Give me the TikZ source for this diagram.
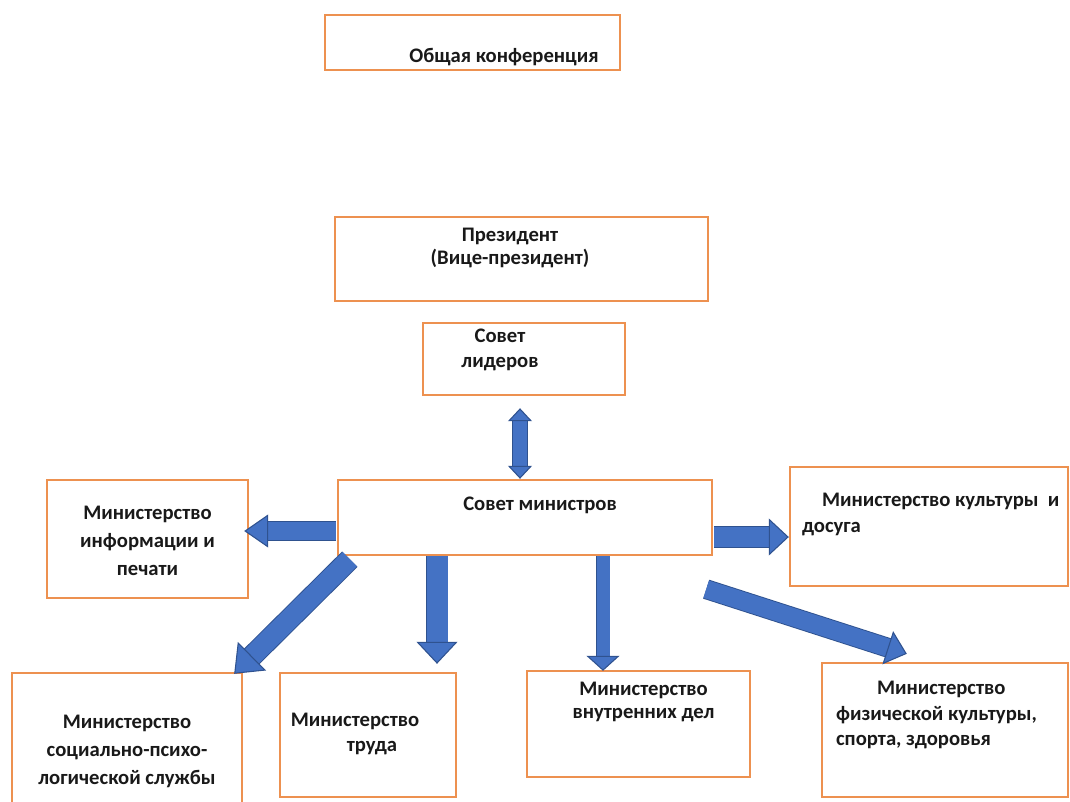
\documentclass[tikz,border=0pt]{standalone}
\usepackage{fontspec}
\setmainfont{Carlito}
\usepackage{xcolor}
\usetikzlibrary{arrows.meta, calc}

\definecolor{boxline}{RGB}{237,145,80}
\definecolor{arrowfill}{RGB}{68,114,196}
\definecolor{arrowedge}{RGB}{47,82,143}

\begin{document}
\begin{tikzpicture}[
    x=0.75pt, y=-0.75pt,
    box/.style={draw=boxline, line width=1.8pt, rectangle, fill=white},
    txt/.style={inner sep=0pt, align=center, text=black!90, font=\bfseries\fontsize{15.5pt}{19pt}\selectfont},
    blockarrow/.style n args={3}{draw=arrowfill, line width=#1,
        -{Triangle[width=#2, length=#3, fill=arrowfill, color=arrowedge, line width=0.8pt]},
        preaction={draw=arrowedge, line width=#1+1.4pt, -, shorten >=#3-1pt}},
    dblarrow/.style n args={3}{draw=arrowfill, line width=#1,
        {Triangle[width=#2, length=#3, fill=arrowfill, color=arrowedge, line width=0.8pt]}-{Triangle[width=#2, length=#3, fill=arrowfill, color=arrowedge, line width=0.8pt]},
        preaction={draw=arrowedge, line width=#1+1.4pt, -, shorten >=#3-1pt, shorten <=#3-1pt}},
]
\useasboundingbox (0,0) rectangle (1070,801);

% Top
\node[box, minimum width=221.25pt, minimum height=41.25pt,
  label={[txt, xshift=23.6pt, yshift=-10.9pt]center:Общая конференция}] (konf) at (472.5,42.5) {};
\node[box, minimum width=279.75pt, minimum height=63pt,
  label={[txt, xshift=-8.6pt, yshift=8.3pt]center:{Президент\\[-2pt](Вице-президент)}}] (prez) at (521.5,259) {};
\node[box, minimum width=151.5pt, minimum height=54pt,
  label={[txt, xshift=-18pt, yshift=6.75pt]center:{Совет\\лидеров}}] (sovlid) at (524,359) {};

% Council of ministers
\node[box, minimum width=280.5pt, minimum height=56.25pt,
  label={[txt, xshift=11.25pt, yshift=9.4pt]center:Совет министров}] (sovmin) at (525,517.5) {};

% Ministries, middle row
\node[box, minimum width=150.75pt, minimum height=88.5pt,
  label={[txt, yshift=-1.5pt]center:{Министерство\\[2pt]информации и\\[2pt]печати}}] (info) at (147.5,539) {};
\node[box, minimum width=208.5pt, minimum height=89.25pt,
  label={[txt, align=left, anchor=west, xshift=9.75pt, yshift=9pt]west:{\hspace*{15pt}Министерство культуры\ \ и\\досуга}}] (kult) at (929,526.5) {};

% Ministries, bottom row
\node[box, minimum width=172.5pt, minimum height=98.25pt,
  label={[txt, yshift=-9.5pt]center:{Министерство\\[2pt]социально-психо-\\[2pt]логической службы}}] (soc) at (127,738.5) {};
\node[box, minimum width=132pt, minimum height=93pt,
  label={[txt, xshift=-9.75pt, yshift=0.75pt]center:{Министерство\\\hspace*{25.5pt}труда}}] (trud) at (368,735) {};
\node[box, minimum width=167.25pt, minimum height=79.5pt,
  label={[txt, xshift=3.75pt, yshift=16.5pt]center:{Министерство\\[-2pt]внутренних дел}}] (vnutr) at (638.5,724) {};
\node[box, minimum width=184.5pt, minimum height=100.5pt,
  label={[txt, align=left, anchor=west, xshift=11.25pt, yshift=11.25pt]west:{\hspace*{30.75pt}Министерство\\физической культуры,\\спорта, здоровья}}] (fiz) at (945,730) {};

% Arrows
\draw[dblarrow={10.5pt}{18pt}{9.75pt}] ([shift={(-4,12)}]sovlid.south) -- ([shift={(-5,0)}]sovmin.north);
\draw[blockarrow={13.5pt}{24.75pt}{18pt}] ([shift={(-1,13.5)}]sovmin.west) -- ([shift={(-5,-8)}]info.east);
\draw[blockarrow={15pt}{27.75pt}{15pt}] ([shift={(1,19.5)}]sovmin.east) -- ([shift={(0,10.5)}]kult.west);
\draw[blockarrow={15.75pt}{30.75pt}{16.5pt}] ([shift={(-88,0)}]sovmin.south) -- ([shift={(69,-8)}]trud.north);
\draw[blockarrow={9.75pt}{24.75pt}{11.25pt}] ([shift={(78,0)}]sovmin.south) -- ([shift={(-35.5,1)}]vnutr.north);
\draw[blockarrow={15pt}{30pt}{18.75pt}] ([shift={(13,3)}]sovmin.south west) -- ([shift={(-9,2)}]soc.north east);
\draw[blockarrow={13.5pt}{26pt}{15pt}] ([shift={(-7,33)}]sovmin.south east) -- ([shift={(86,-8)}]fiz.north west);

\end{tikzpicture}
\end{document}
